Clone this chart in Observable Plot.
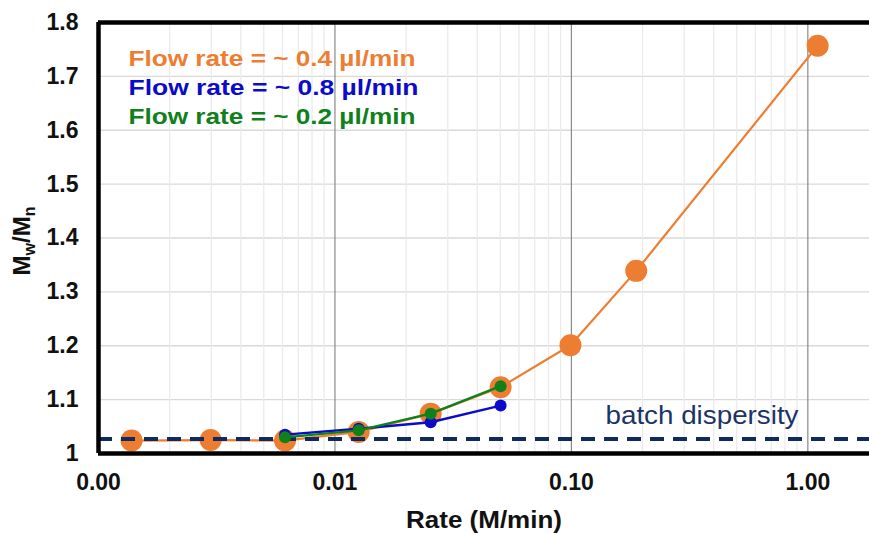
<!DOCTYPE html>
<html>
<head>
<meta charset="utf-8">
<script src="https://cdn.jsdelivr.net/npm/d3@7"></script>
<script src="https://cdn.jsdelivr.net/npm/@observablehq/plot@0.6"></script>
<style>
  body { margin: 0; background: #fff; }
  #chart svg { display: block; }
</style>
</head>
<body>
<div id="chart"></div>
<script>
// Polymer dispersity (Mw/Mn) versus monomer addition rate, three syringe flow rates
const rate04 = [0.00138, 0.00298, 0.00615, 0.0126, 0.0254, 0.0502, 0.0991, 0.188, 1.10];
const disp04 = [1.024, 1.025, 1.024, 1.040, 1.074, 1.123, 1.201, 1.339, 1.757];
const rate08 = [0.00615, 0.0126, 0.0254, 0.0502];
const disp08 = [1.035, 1.046, 1.058, 1.089];
const rate02 = [0.00615, 0.0126, 0.0254, 0.0502];
const disp02 = [1.030, 1.043, 1.074, 1.125];
const batchDispersity = 1.027;

const seriesLabels = ["Flow rate = ~ 0.4 µl/min", "Flow rate = ~ 0.8 µl/min", "Flow rate = ~ 0.2 µl/min"];
const seriesColors = ["#ED7D31", "#0B0BCB", "#10801A"];
const batchLabel = "batch dispersity";
const xLabel = "Rate (M/min)";
const yLabel = "Mw/Mn";

const xTicks = [0.001, 0.01, 0.1, 1];
const yTicks = [1, 1.1, 1.2, 1.3, 1.4, 1.5, 1.6, 1.7, 1.8];
const xMax = 1.823;

const rows = (xs, ys) => xs.map((x, i) => ({rate: x, disp: ys[i]}));
const s04 = rows(rate04, disp04);
const s08 = rows(rate08, disp08);
const s02 = rows(rate02, disp02);

// minor log gridlines (2..9 within each decade)
const minorGrid = [];
for (const d of xTicks) for (let k = 2; k <= 9; ++k) if (d * k <= xMax) minorGrid.push(d * k);

const font = "'Liberation Sans', Arial, Helvetica, sans-serif";

const chart = Plot.plot({
  width: 869,
  height: 533,
  marginLeft: 98,
  marginRight: 0,
  marginTop: 22,
  marginBottom: 80,
  style: {fontFamily: font, fontSize: "23px", fontWeight: "bold", color: "#111", background: "#fff"},
  x: {type: "log", domain: [0.001, xMax], ticks: xTicks, tickFormat: d3.format(".2f"), tickSize: 0, tickPadding: 20, label: null},
  y: {domain: [1, 1.8], ticks: yTicks, tickFormat: d => String(d), tickSize: 0, tickPadding: 20, label: null},
  marks: [
    Plot.ruleY(yTicks, {stroke: "#d9d9d9", strokeWidth: 1.3}),
    Plot.ruleX(minorGrid, {stroke: "#ebebeb", strokeWidth: 1.3}),
    Plot.ruleX(xTicks.slice(1), {stroke: "#8a8a8a", strokeWidth: 1.2}),

    Plot.line(s04, {x: "rate", y: "disp", stroke: seriesColors[0], strokeWidth: 2.2}),
    Plot.dot(s04, {x: "rate", y: "disp", r: 11, fill: seriesColors[0]}),

    Plot.ruleY([batchDispersity], {stroke: "#0E2A5E", strokeWidth: 4, strokeDasharray: "14,9"}),

    Plot.line(s08, {x: "rate", y: "disp", stroke: seriesColors[1], strokeWidth: 2.4}),
    Plot.dot(s08, {x: "rate", y: "disp", r: 6, fill: seriesColors[1]}),
    Plot.line(s02, {x: "rate", y: "disp", stroke: seriesColors[2], strokeWidth: 2.4}),
    Plot.dot(s02, {x: "rate", y: "disp", r: 6, fill: seriesColors[2]}),

    // frame: left, bottom and top borders
    Plot.ruleX([0.001], {stroke: "#000", strokeWidth: 4.5}),
    Plot.ruleY([1, 1.8], {stroke: "#000", strokeWidth: 4.5}),

    Plot.text([batchLabel], {
      y: [batchDispersity], text: d => d, frameAnchor: "right", textAnchor: "end", lineAnchor: "middle",
      dx: -71, dy: -23, fill: "#1B3468", fontSize: 25, fontWeight: "normal"
    }),
    ...seriesLabels.map((label, i) => Plot.text([label], {
      text: d => d, frameAnchor: "top-left", textAnchor: "start", lineAnchor: "middle",
      dx: 30, dy: 36.5 + i * 29, fill: seriesColors[i], fontSize: 22, fontWeight: "bold"
    })),
    Plot.text([xLabel], {
      text: d => d, frameAnchor: "bottom", textAnchor: "middle", lineAnchor: "middle", dy: 67,
      fontSize: 24, fontWeight: "bold", fill: "#111"
    }),
    Plot.text([yLabel], {
      text: d => d, frameAnchor: "left", textAnchor: "middle", lineAnchor: "middle", dx: -76, dy: 3, rotate: -90,
      fontSize: 24, fontWeight: "bold", fill: "#111"
    })
  ]
});

const texts = d3.select(chart).selectAll("text");

// y label with subscripts: M_w / M_n
texts.filter(function() { return this.textContent === yLabel; }).each(function() {
  const t = d3.select(this).text(null);
  t.append("tspan").text("M");
  t.append("tspan").attr("font-size", 16).attr("dy", 5).text("w");
  t.append("tspan").attr("dy", -5).text("/M");
  t.append("tspan").attr("font-size", 16).attr("dy", 5).text("n");
});

// wide-set annotation text
const widths = new Map([[seriesLabels[0], 287], [seriesLabels[1], 290], [seriesLabels[2], 287], [batchLabel, 193], [xLabel, 156]]);
texts.filter(function() { return widths.has(this.textContent); }).each(function() {
  d3.select(this).attr("textLength", widths.get(this.textContent)).attr("lengthAdjust", "spacingAndGlyphs");
});

document.getElementById("chart").append(chart);
</script>
</body>
</html>
